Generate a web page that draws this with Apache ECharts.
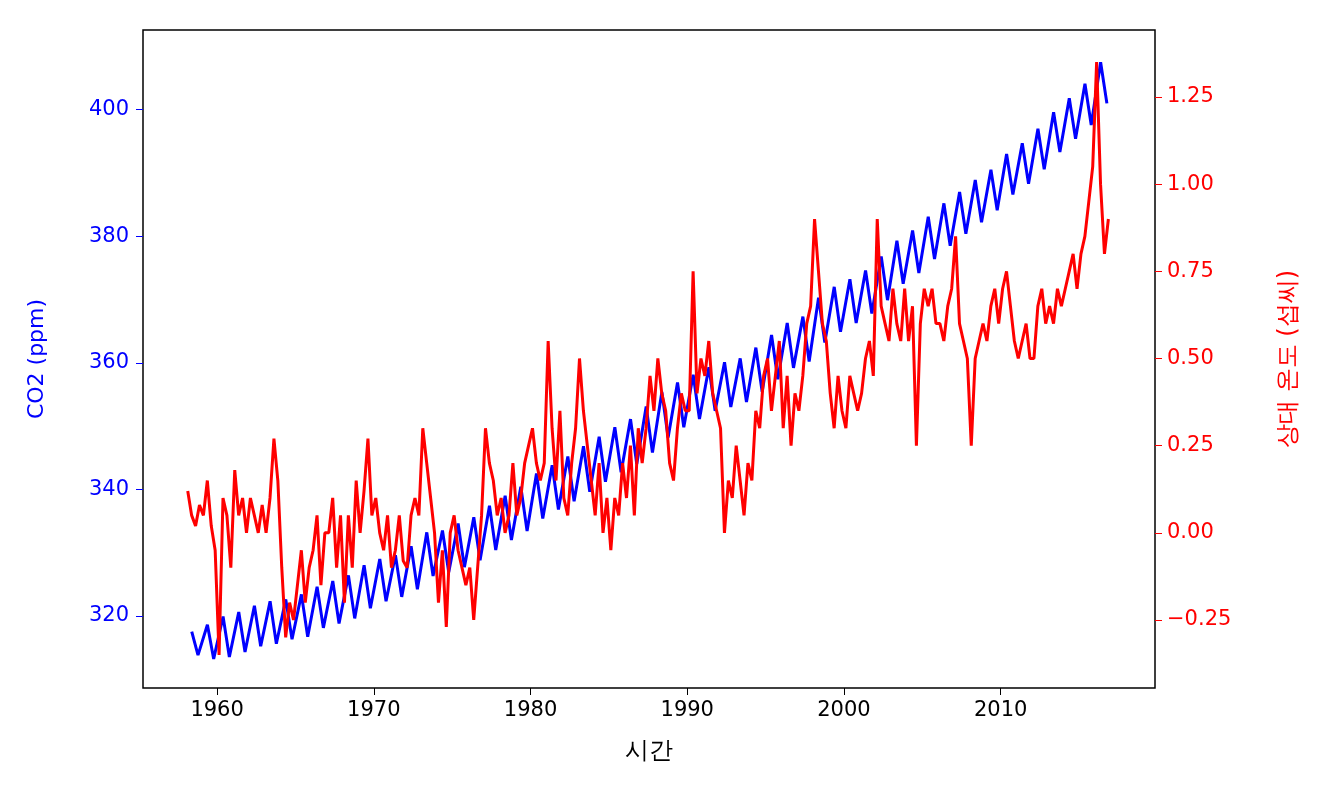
<!DOCTYPE html>
<html><head><meta charset="utf-8">
<script src="https://cdn.jsdelivr.net/npm/echarts@6/dist/echarts.min.js"></script>
<style>html,body{margin:0;background:#fff}#c{width:1328px;height:800px}</style>
</head><body><div id="c"></div>
<script>
const years = [];
for (let y = 1958; y <= 2016; y++) years.push(y);
const co2Peak = [317.5,318.6,319.9,320.6,321.6,322.3,322.6,323.4,324.6,325.5,326.4,328.0,329.0,329.6,331.0,333.2,333.5,334.6,335.6,337.4,339.0,340.4,342.5,343.8,345.2,346.8,348.3,349.8,351.1,353.1,355.4,356.9,358.1,359.3,360.1,360.7,362.4,364.4,366.3,367.3,370.3,372.0,373.2,374.6,376.8,379.3,380.9,383.1,385.2,387.0,388.9,390.5,393.0,394.7,397.0,399.6,401.8,404.1,407.5];
const co2Trough = [313.8,313.2,313.5,314.3,315.2,315.6,316.3,316.7,318.1,318.8,319.6,321.2,322.3,323.0,324.2,326.3,326.9,327.7,328.8,330.4,332.0,333.4,335.4,336.8,338.1,339.6,341.2,342.7,344.0,345.8,348.2,349.8,351.1,352.4,353.0,353.8,355.4,357.4,359.2,360.2,363.2,364.9,366.3,367.8,369.9,372.5,374.2,376.4,378.5,380.4,382.2,384.1,386.6,388.3,390.6,393.3,395.4,397.6,401.0];
const temp = [
0.12,0.05,0.02,0.08, 0.05,0.15,0.02,-0.05, -0.35,0.1,0.05,-0.1, 0.18,0.05,0.1,0.0,
0.1,0.05,0.0,0.08, 0.0,0.1,0.27,0.15, -0.1,-0.3,-0.2,-0.25, -0.15,-0.05,-0.2,-0.1,
-0.05,0.05,-0.15,0.0, 0.0,0.1,-0.1,0.05, -0.2,0.05,-0.1,0.15, 0.0,0.12,0.27,0.05,
0.1,0.0,-0.05,0.05, -0.1,-0.05,0.05,-0.08, -0.1,0.05,0.1,0.05, 0.3,0.2,0.1,0.0,
-0.2,-0.05,-0.27,0.0, 0.05,-0.05,-0.1,-0.15, -0.1,-0.25,-0.1,0.05, 0.3,0.2,0.15,0.05,
0.1,0.0,0.05,0.2, 0.05,0.1,0.2,0.25, 0.3,0.2,0.15,0.2, 0.55,0.3,0.15,0.35,
0.1,0.05,0.2,0.3, 0.5,0.35,0.25,0.15, 0.05,0.2,0.0,0.1, -0.05,0.1,0.05,0.2,
0.1,0.25,0.05,0.3, 0.2,0.3,0.45,0.35, 0.5,0.4,0.35,0.2, 0.15,0.3,0.4,0.35,
0.35,0.75,0.4,0.5, 0.45,0.55,0.4,0.35, 0.3,0.0,0.15,0.1, 0.25,0.15,0.05,0.2,
0.15,0.35,0.3,0.45, 0.5,0.35,0.45,0.55, 0.3,0.45,0.25,0.4, 0.35,0.45,0.6,0.65,
0.9,0.75,0.6,0.55, 0.4,0.3,0.45,0.35, 0.3,0.45,0.4,0.35, 0.4,0.5,0.55,0.45,
0.9,0.65,0.6,0.55, 0.7,0.6,0.55,0.7, 0.55,0.65,0.25,0.6, 0.7,0.65,0.7,0.6,
0.6,0.55,0.65,0.7, 0.85,0.6,0.55,0.5, 0.25,0.5,0.55,0.6, 0.55,0.65,0.7,0.6,
0.7,0.75,0.65,0.55, 0.5,0.55,0.6,0.5, 0.5,0.65,0.7,0.6, 0.65,0.6,0.7,0.65,
0.7,0.75,0.8,0.7, 0.8,0.85,0.95,1.05, 1.35,1.0,0.8,0.9];
const xTicks = [1960,1970,1980,1990,2000,2010];
const co2Ticks = [320,340,360,380,400];
const tempTicks = [-0.25,0,0.25,0.5,0.75,1.0,1.25];

const co2Data = [];
years.forEach((y,i)=>{ co2Data.push([y+0.38, co2Peak[i]]); co2Data.push([y+0.78, co2Trough[i]]); });
const tempData = temp.map((v,i)=>[years[0] + Math.floor(i/4) + 0.125 + (i%4)*0.25, v]);

const font = 'DejaVu Sans';
const ch = echarts.init(document.getElementById('c'));
ch.setOption({
  animation:false,
  grid:{left:143,right:173,top:30,bottom:112,show:true,borderColor:'#000',borderWidth:1.5,backgroundColor:'transparent'},
  xAxis:{type:'value',min:1955.27,max:2019.85,name:'시간',nameLocation:'middle',nameGap:52,
    nameTextStyle:{fontSize:24,color:'#000',fontFamily:font},
    axisLine:{show:false,onZero:false},splitLine:{show:false},
    axisTick:{show:true,length:7,inside:false,customValues:xTicks,lineStyle:{color:'#000'}},
    axisLabel:{customValues:xTicks,fontSize:21,color:'#000',fontFamily:font,margin:12,formatter:v=>String(v)}},
  yAxis:[
    {type:'value',min:308.6,max:412.6,position:'left',name:'CO2 (ppm)',nameLocation:'middle',nameRotate:90,nameGap:95,
      nameTextStyle:{fontSize:22,color:'#0000ff',fontFamily:font},
      axisLine:{show:false,onZero:false},splitLine:{show:false},
      axisTick:{show:true,length:7,customValues:co2Ticks,lineStyle:{color:'#0000ff'}},
      axisLabel:{customValues:co2Ticks,fontSize:21,color:'#0000ff',fontFamily:font,margin:14}},
    {type:'value',min:-0.445,max:1.442,position:'right',name:'상대 온도 (섭씨)',nameLocation:'middle',nameRotate:90,nameGap:122,
      nameTextStyle:{fontSize:24,color:'#ff0000',fontFamily:font},
      axisLine:{show:false,onZero:false},splitLine:{show:false},
      axisTick:{show:true,length:7,customValues:tempTicks,lineStyle:{color:'#ff0000'}},
      axisLabel:{customValues:tempTicks,fontSize:21,color:'#ff0000',fontFamily:font,margin:12,
        formatter:v=>v.toFixed(2).replace('-','−')}}
  ],
  series:[
    {type:'line',yAxisIndex:0,data:co2Data,showSymbol:false,lineStyle:{color:'#0000ff',width:3}},
    {type:'line',yAxisIndex:1,data:tempData,showSymbol:false,lineStyle:{color:'#ff0000',width:3}}
  ]
});
</script></body></html>
